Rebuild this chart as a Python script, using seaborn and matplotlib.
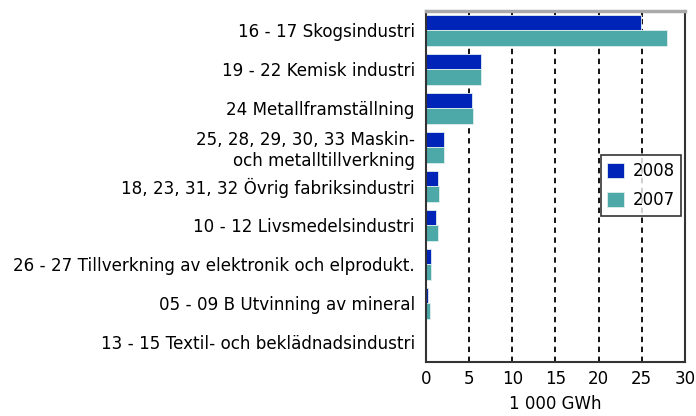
import pandas as pd
import seaborn as sns
import matplotlib.pyplot as plt

categories = [
    "16 - 17 Skogsindustri",
    "19 - 22 Kemisk industri",
    "24 Metallframställning",
    "25, 28, 29, 30, 33 Maskin-\noch metalltillverkning",
    "18, 23, 31, 32 Övrig fabriksindustri",
    "10 - 12 Livsmedelsindustri",
    "26 - 27 Tillverkning av elektronik och elprodukt.",
    "05 - 09 B Utvinning av mineral",
    "13 - 15 Textil- och beklädnadsindustri",
]
values_2008 = [24.9, 6.4, 5.3, 2.1, 1.4, 1.2, 0.6, 0.27, 0.04]
values_2007 = [27.9, 6.4, 5.5, 2.1, 1.5, 1.4, 0.6, 0.45, 0.05]
years = ["2008", "2007"]
xticks = [0, 5, 10, 15, 20, 25, 30]

df = pd.DataFrame({
    "cat": categories * 2,
    "year": ["2008"] * len(categories) + ["2007"] * len(categories),
    "val": values_2008 + values_2007,
})

sns.set_style("white")
plt.rcParams["font.family"] = ["DejaVu Sans"]
plt.rcParams["text.color"] = "black"
plt.rcParams["xtick.color"] = "black"
plt.rcParams["ytick.color"] = "black"
plt.rcParams["axes.labelcolor"] = "black"

fig = plt.figure(figsize=(6.96, 4.16), dpi=100)
ax = fig.add_axes([0.612, 0.130, 0.372, 0.844])

# dashed grid behind the bars
for x in xticks[1:-1]:
    ax.axvline(x, color="black", linestyle=(0, (3, 2.5)), linewidth=1.3, zorder=0)

sns.barplot(data=df, x="val", y="cat", hue="year", hue_order=years,
            palette={"2008": "#0024B8", "2007": "#4CA9A8"}, saturation=1,
            order=categories, width=0.8, ax=ax, zorder=2,
            edgecolor="#dfeeee", linewidth=0.6)

ax.set_xlim(0, 30)
ax.set_xticks(xticks)
ax.set_xticklabels([str(t) for t in xticks], fontsize=12)
ax.set_xlabel("1 000 GWh", fontsize=12, labelpad=5)
ax.set_ylabel("")
ax.tick_params(axis="y", length=0, pad=8)
ax.xaxis.set_tick_params(top=True, bottom=False, direction="in", length=4,
                         width=1.2, pad=6)
for lab in ax.get_yticklabels():
    lab.set_fontsize(12.1)
    lab.set_horizontalalignment("right")
    lab.set_multialignment("right")
    lab.set_linespacing(1.2)

for s in ax.spines.values():
    s.set_color("#333333")
    s.set_linewidth(1.5)
ax.spines["top"].set_color("#aaaaaa")
ax.spines["top"].set_linewidth(2.5)

leg = ax.legend(loc="center", bbox_to_anchor=(0.83, 0.502), fontsize=12,
                frameon=True, fancybox=False, edgecolor="black",
                handlelength=1.0, handleheight=1.0, borderpad=0.4,
                labelspacing=0.7, handletextpad=0.5, borderaxespad=0)
leg.get_frame().set_linewidth(1.2)

fig.savefig("out.png", dpi=100)
